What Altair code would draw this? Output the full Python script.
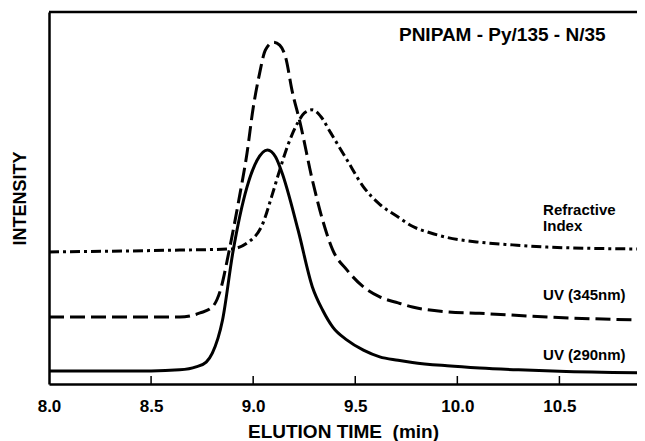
import altair as alt
import pandas as pd

# ---- data ----
uv290_t = [8.0, 8.5, 8.64, 8.72, 8.77, 8.80, 8.85, 8.90, 8.97, 9.02, 9.07, 9.11, 9.14, 9.22, 9.29, 9.34, 9.39, 9.46, 9.54, 9.62, 9.71, 9.78, 9.95, 10.11, 10.3, 10.5, 10.88]
uv290_i = [3.5, 3.5, 3.8, 4.6, 5.9, 8.3, 17.2, 35.2, 53.0, 60.2, 62.9, 61.0, 57.0, 41.4, 26.1, 19.9, 15.3, 11.8, 9.1, 7.3, 6.4, 5.8, 4.9, 4.3, 3.8, 3.4, 3.0]

uv345_t = [8.0, 8.5, 8.64, 8.74, 8.80, 8.84, 8.88, 8.93, 8.97, 9.00, 9.03, 9.06, 9.10, 9.13, 9.16, 9.19, 9.23, 9.29, 9.34, 9.39, 9.46, 9.54, 9.62, 9.71, 9.78, 9.95, 10.11, 10.44, 10.88]
uv345_i = [18.0, 18.0, 18.0, 19.1, 20.7, 25.3, 35.2, 49.5, 62.1, 74.2, 83.1, 89.8, 91.9, 91.1, 87.6, 79.0, 70.2, 54.8, 44.1, 36.0, 30.6, 26.1, 23.4, 21.8, 20.7, 19.4, 19.0, 18.0, 17.2]

ri_t = [8.0, 8.64, 8.89, 8.97, 9.05, 9.09, 9.13, 9.17, 9.22, 9.25, 9.29, 9.33, 9.38, 9.46, 9.54, 9.62, 9.71, 9.78, 9.87, 9.95, 10.11, 10.27, 10.44, 10.88]
ri_i = [35.5, 36.0, 36.3, 37.9, 43.5, 50.3, 57.5, 64.2, 70.4, 72.8, 73.7, 72.0, 67.5, 60.2, 53.0, 48.3, 44.9, 42.4, 40.6, 39.4, 38.1, 37.4, 36.8, 36.3]

tick_values = [8.0, 8.5, 9.0, 9.5, 10.0, 10.5]
inner_ticks = [8.5, 9.0, 9.5, 10.0, 10.5]

label_text = ["Refractive", "Index", "UV (345nm)", "UV (290nm)"]
label_t = [10.42, 10.42, 10.42, 10.42]
label_i = [46.8, 42.5, 23.9, 7.8]

title_text = "PNIPAM - Py/135 - N/35"
title_t = 10.22
title_i = 93.8

FONT = "Liberation Sans"
W, H = 588, 372

xenc = alt.X(
    "t:Q",
    scale=alt.Scale(domain=[8.0, 10.88], nice=False, zero=False),
    axis=alt.Axis(
        values=tick_values, format=".1f", title="ELUTION TIME\u00a0\u00a0(min)",
        ticks=False, grid=False, domainWidth=2.5, domainColor="black",
        labelFont=FONT, labelFontSize=17, labelFontWeight="bold", labelColor="black",
        labelPadding=14, labelFlush=False,
        titleFont=FONT, titleFontSize=19, titleFontWeight="bold", titleColor="black",
        titlePadding=8,
    ),
)
yenc = alt.Y(
    "i:Q",
    scale=alt.Scale(domain=[0, 100], nice=False, zero=False),
    axis=alt.Axis(
        title="INTENSITY", labels=False, ticks=False, grid=False,
        domainWidth=2.5, domainColor="black",
        titleFont=FONT, titleFontSize=18, titleFontWeight="bold", titleColor="black",
        titlePadding=20,
    ),
)

def line(t, i, dash):
    df = pd.DataFrame({"t": t, "i": i})
    kw = dict(color="black", strokeWidth=3, interpolate="monotone", strokeCap="butt")
    if dash:
        kw["strokeDash"] = dash
    return alt.Chart(df).mark_line(**kw).encode(x=xenc, y=yenc)

solid = line(uv290_t, uv290_i, None)
dashed = line(uv345_t, uv345_i, [15, 6])
dashdot = line(ri_t, ri_i, [10, 4, 3, 4])

labels = alt.Chart(pd.DataFrame({"t": label_t, "i": label_i, "s": label_text})).mark_text(
    font=FONT, fontSize=15, fontWeight="bold", align="left", baseline="middle", color="black"
).encode(x=xenc, y=yenc, text="s:N")

title = alt.Chart(pd.DataFrame({"t": [title_t], "i": [title_i], "s": [title_text]})).mark_text(
    font=FONT, fontSize=19, fontWeight="bold", align="center", baseline="middle", color="black"
).encode(x=xenc, y=yenc, text="s:N")

ticks = alt.Chart(pd.DataFrame({"t": inner_ticks})).mark_rule(color="black", strokeWidth=1.5).encode(
    x=xenc, y=alt.value(H), y2=alt.value(H - 8)
)

top = alt.Chart(pd.DataFrame({"t": [8.0]})).mark_rule(color="black", strokeWidth=2.5).encode(
    x=alt.value(0), x2=alt.value(W), y=alt.value(0)
)

chart = alt.layer(dashdot, dashed, solid, labels, title, ticks, top).properties(
    width=W, height=H,
    padding={"left": 41, "top": 4, "right": 0, "bottom": 57},
    autosize=alt.AutoSizeParams(type="none"),
).configure_view(stroke=None).configure(background="white")

chart.save("out.html", embed_options={"renderer": "svg", "actions": False})
